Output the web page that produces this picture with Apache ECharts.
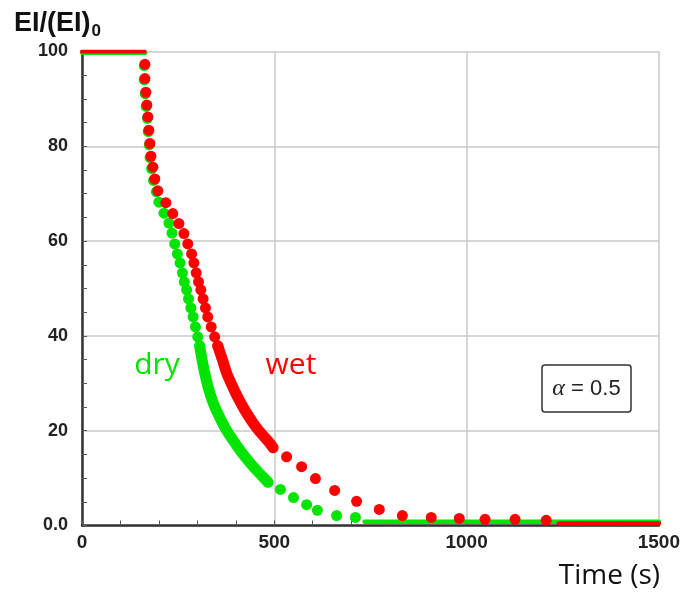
<!DOCTYPE html>
<html>
<head>
<meta charset="utf-8">
<script src="https://cdn.jsdelivr.net/npm/echarts@6/dist/echarts.min.js"></script>
<style>html,body{margin:0;padding:0;background:#fff;}#c{width:683px;height:593px;}</style>
</head>
<body>
<div id="c"></div>
<script>
// ---- Data ----
const xTicks = [0, 500, 1000, 1500];
const yTicks = [0, 20, 40, 60, 80, 100];

// plateau at 100 before degradation starts
const flatDryT = [0, 165];
const flatDryV = [99.7, 99.7];
const flatWetT = [0, 163];
const flatWetV = [100, 100];

// wet (red) discrete points
const wetT = [163.5,163.5,166,168.7,171.3,173.9,176.5,179.1,184.3,189.4,197.2,218,236,
              252,265,275,285,291,297,303,309,315,321,327,336,345,353];
const wetV = [97.3,94.3,91.4,88.7,86.2,83.4,80.6,77.9,75.6,73.1,70.6,68.1,65.8,
              63.7,61.6,59.4,57.3,55.4,53.3,51.4,49.7,47.8,45.9,44,41.9,39.8,37.9];
// wet dense part (points so close they form a band)
const wetDenseT = [353,365,376,390,404,418,432,446,460,474,488,497];
const wetDenseV = [37.9,35,32.2,29.6,27.2,25.1,23.2,21.5,20,18.7,17.4,16.4];
// wet tail
const wetTailT = [532,571,607,657,714,773,833,908,981,1048,1126,1207];
const wetTailV = [14.5,12.4,9.9,7.4,5.1,3.4,2.1,1.7,1.5,1.3,1.3,1.1];
const wetFloorT = [1240, 1500];
const wetFloorV = [0.4, 0.4];

// dry (green) discrete points
const dryT = [162,162,164.5,167,170,172.5,175,177,181,186,193.5,200,213,
              226,234,241,248,255,261,266,272,277,283,289,295,301,306];
const dryV = [97,94,91.1,88.4,85.9,83.1,80.3,77.6,75.3,72.8,70.4,68.2,65.9,
              63.8,61.7,59.4,57.3,55.4,53.3,51.4,49.7,47.8,45.9,44,41.9,39.8,37.9];
const dryDenseT = [306,312,319,326,335,345,360,375,392,410,430,450,470,484];
const dryDenseV = [37.9,35,32.2,29.8,27.3,25.1,22.5,20.2,18.1,16,13.9,12,10.3,9.1];
const dryTailT = [516,550,584,612,662,711];
const dryTailV = [7.6,5.9,4.4,3.2,2.1,1.7];
const dryFloorT = [735, 1500];
const dryFloorV = [0.8, 0.8];

const GREEN = '#00e400';
const RED = '#ff0000';

function pairs(t, v) { return t.map((x, i) => [x, v[i]]); }

const chart = echarts.init(document.getElementById('c'), null, {renderer: 'canvas'});

function lineSeries(t, v, color, width, z) {
  return {
    type: 'line', data: pairs(t, v), symbol: 'none', smooth: 0.3, z: z,
    lineStyle: {color: color, width: width, cap: 'round', join: 'round'},
    silent: true
  };
}
function dotSeries(t, v, color, z) {
  return {
    type: 'scatter', data: pairs(t, v), symbol: 'circle', symbolSize: 11, z: z,
    itemStyle: {color: color, opacity: 1}, silent: true
  };
}

chart.setOption({
  animation: false,
  backgroundColor: '#fff',
  grid: {left: 82, right: 23, top: 51.5, bottom: 67.5, containLabel: false},
  xAxis: {
    type: 'value', min: 0, max: 1500, interval: 500,
    axisLine: {show: true, onZero: false, lineStyle: {color: '#333', width: 2.5}},
    axisTick: {show: true, inside: true, length: 5, lineStyle: {color: '#555', width: 1}},
    minorTick: {show: true, splitNumber: 5, length: 5, lineStyle: {color: '#555', width: 1}},
    splitLine: {show: true, lineStyle: {color: '#c8c8c8', width: 1.5}},
    axisLabel: {
      margin: 8, fontFamily: 'Liberation Sans', fontWeight: 'bold', fontSize: 19, color: '#222',
      formatter: v => xTicks.includes(v) ? String(v) : ''
    }
  },
  yAxis: {
    type: 'value', min: 0, max: 100, interval: 20,
    axisLine: {show: true, onZero: false, lineStyle: {color: '#333', width: 2.5}},
    axisTick: {show: true, inside: true, length: 5, lineStyle: {color: '#555', width: 1}},
    minorTick: {show: true, splitNumber: 4, length: 5, lineStyle: {color: '#555', width: 1}},
    splitLine: {show: true, lineStyle: {color: '#c8c8c8', width: 1.5}},
    axisLabel: {
      margin: 14, fontFamily: 'Liberation Sans', fontWeight: 'bold', fontSize: 18, color: '#222',
      formatter: v => yTicks.includes(v) ? (v === 0 ? '0.0' : String(v)) : ''
    }
  },
  series: [
    lineSeries(flatDryT, flatDryV, GREEN, 4, 2),
    lineSeries(dryFloorT, dryFloorV, GREEN, 4.5, 2),
    dotSeries(dryT, dryV, GREEN, 3),
    lineSeries(dryDenseT, dryDenseV, GREEN, 11, 3),
    dotSeries(dryTailT, dryTailV, GREEN, 3),
    lineSeries(flatWetT, flatWetV, RED, 4, 4),
    lineSeries(wetFloorT, wetFloorV, RED, 4.5, 4),
    dotSeries(wetT, wetV, RED, 5),
    lineSeries(wetDenseT, wetDenseV, RED, 11, 5),
    dotSeries(wetTailT, wetTailV, RED, 5)
  ],
  graphic: [
    {
      type: 'text', x: 14, y: 24, z: 10,
      style: {
        text: '{a|EI/(EI)}{b|0}', verticalAlign: 'middle', align: 'left',
        rich: {
          a: {fontFamily: 'Liberation Sans', fontWeight: 'bold', fontSize: 27, fill: '#111'},
          b: {fontFamily: 'Liberation Sans', fontWeight: 'bold', fontSize: 17, fill: '#111', padding: [14, 0, 0, 1]}
        }
      }
    },
    {
      type: 'text', x: 157, y: 365, z: 10,
      style: {text: 'dry', font: '30px "Open Sans"', fill: GREEN, align: 'center', verticalAlign: 'middle'}
    },
    {
      type: 'text', x: 291, y: 365, z: 10,
      style: {text: 'wet', font: '30px "Open Sans"', fill: RED, align: 'center', verticalAlign: 'middle'}
    },
    {
      type: 'text', x: 660, y: 576, z: 10,
      style: {text: 'Time (s)', font: '28px "Open Sans"', fill: '#111', align: 'right', verticalAlign: 'middle'}
    },
    {
      type: 'rect', z: 10,
      shape: {x: 542, y: 365, width: 89, height: 47, r: 3},
      style: {fill: '#fff', stroke: '#333', lineWidth: 1.5}
    },
    {
      type: 'text', x: 586.5, y: 389, z: 11,
      style: {
        text: '{i|α} = 0.5', align: 'center', verticalAlign: 'middle',
        rich: {
          i: {fontFamily: 'Liberation Serif', fontStyle: 'italic', fontSize: 24, fill: '#222'}
        },
        fontFamily: 'Liberation Sans', fontSize: 22, fill: '#222'
      }
    }
  ]
});
</script>
</body>
</html>
